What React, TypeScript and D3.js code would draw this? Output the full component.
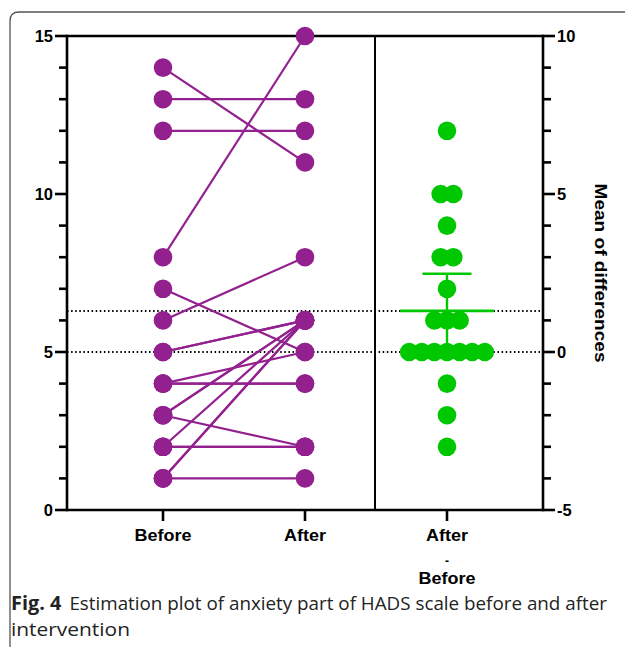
import React from "react";
import * as d3 from "d3";

const groups = ["Before", "After"];
const before = [14, 13, 12, 8, 7, 6, 5, 5, 4, 4, 4, 3, 3, 3, 2, 2, 2, 1, 1, 1];
const after = [11, 13, 12, 15, 5, 8, 6, 6, 5, 4, 4, 6, 6, 2, 6, 2, 2, 6, 6, 1];
const leftTicks = [0, 5, 10, 15];
const rightTicks = [-5, 0, 5, 10];
const tCrit = 2.093;

const PURPLE = "#93208f";
const GREEN = "#00c800";
const FONT = "'Liberation Sans', Arial, sans-serif";

export default function App() {
  const W = 625, H = 647;
  const xL = 67, xR = 543, xDiv = 375;
  const y = d3.scaleLinear().domain([0, 15]).range([510, 36]);
  const yR = d3.scaleLinear().domain([-5, 10]).range([510, 36]);
  const x = d3.scalePoint<string>().domain(["Before", "After", "Diff"]).range([163, 447]);

  const diffs = before.map((b, i) => after[i] - b);
  const meanB = d3.mean(before)!;
  const meanA = d3.mean(after)!;
  const meanD = d3.mean(diffs)!;
  const sd = d3.deviation(diffs)!;
  const half = (tCrit * sd) / Math.sqrt(diffs.length);
  // right axis: zero aligned with mean of "before"
  const yD = (v: number) => y(meanB + v);

  const grouped = d3.group(diffs, (d) => d);
  const spacing = 12.6;
  const swarm: { v: number; dx: number }[] = [];
  grouped.forEach((arr, v) => {
    arr.forEach((_, i) => swarm.push({ v, dx: (i - (arr.length - 1) / 2) * spacing }));
  });

  const minorL = d3.range(0, 16);
  const minorR = d3.range(-5, 11);
  const r = 9.3;
  const xb = x("Before")!, xa = x("After")!, xd = x("Diff")!;

  return (
    <svg width={W} height={H} style={{ position: "absolute", left: 0, top: 0 }} fontFamily={FONT}>
      {/* frame */}
      <path d={`M10,${H} L10,21 Q10,12 19,12 L${W},12`} fill="none" stroke="#555" strokeWidth={1.3} />

      {/* dotted mean lines */}
      {[meanB, meanA].map((m, i) => (
        <line key={i} x1={xL} x2={xR} y1={y(m)} y2={y(m)} stroke="#000" strokeWidth={2} strokeDasharray="1.5,2.6" />
      ))}

      {/* divider */}
      <line x1={xDiv} x2={xDiv} y1={y(15)} y2={y(0)} stroke="#000" strokeWidth={2} />

      {/* axes frame */}
      <line x1={xL} x2={xR} y1={y(15)} y2={y(15)} stroke="#000" strokeWidth={2.6} />
      <line x1={xL} x2={xR} y1={y(0)} y2={y(0)} stroke="#000" strokeWidth={2.6} />
      <line x1={xL} x2={xL} y1={y(15) - 1.3} y2={y(0) + 1.3} stroke="#000" strokeWidth={2.6} />
      <line x1={xR} x2={xR} y1={y(15) - 1.3} y2={y(0) + 1.3} stroke="#000" strokeWidth={2.6} />

      {/* left ticks */}
      {minorL.map((t) => (
        <line key={t} x1={xL - (t % 5 === 0 ? 12 : 8)} x2={xL} y1={y(t)} y2={y(t)} stroke="#000" strokeWidth={2.6} />
      ))}
      {leftTicks.map((t) => (
        <text key={t} x={xL - 14} y={y(t)} dy="0.36em" textAnchor="end" fontSize={16.5} fontWeight="bold">{t}</text>
      ))}
      {/* right ticks */}
      {minorR.map((t) => (
        <line key={t} x1={xR} x2={xR + (t % 5 === 0 ? 12 : 8)} y1={yR(t)} y2={yR(t)} stroke="#000" strokeWidth={2.6} />
      ))}
      {rightTicks.map((t) => (
        <text key={t} x={xR + 14} y={yR(t)} dy="0.36em" textAnchor="start" fontSize={16.5} fontWeight="bold">{t}</text>
      ))}
      <text transform={`translate(595,273) rotate(90)`} textAnchor="middle" fontSize={17} fontWeight="bold" textLength={179} lengthAdjust="spacingAndGlyphs">Mean of differences</text>

      {/* x ticks & labels */}
      {[xb, xa, xd].map((xx, i) => (
        <line key={i} x1={xx} x2={xx} y1={y(0)} y2={y(0) + 11} stroke="#000" strokeWidth={2.6} />
      ))}
      <text x={xb} y={541} textAnchor="middle" fontSize={17} fontWeight="bold" textLength={57} lengthAdjust="spacingAndGlyphs">{groups[0]}</text>
      <text x={xa} y={541} textAnchor="middle" fontSize={17} fontWeight="bold" textLength={42} lengthAdjust="spacingAndGlyphs">{groups[1]}</text>
      <text x={xd} y={541} textAnchor="middle" fontSize={17} fontWeight="bold" textLength={42} lengthAdjust="spacingAndGlyphs">After</text>
      <text x={xd} y={565} textAnchor="middle" fontSize={12} fontWeight="bold">-</text>
      <text x={xd} y={584} textAnchor="middle" fontSize={17} fontWeight="bold" textLength={57} lengthAdjust="spacingAndGlyphs">Before</text>

      {/* paired lines */}
      {before.map((b, i) => (
        <line key={i} x1={xb} x2={xa} y1={y(b)} y2={y(after[i])} stroke={PURPLE} strokeWidth={2.2} />
      ))}
      {before.map((b, i) => (
        <circle key={"b" + i} cx={xb} cy={y(b)} r={r} fill={PURPLE} />
      ))}
      {after.map((a, i) => (
        <circle key={"a" + i} cx={xa} cy={y(a)} r={r} fill={PURPLE} />
      ))}

      {/* differences */}
      {swarm.map((s, i) => (
        <circle key={i} cx={xd + s.dx} cy={yD(s.v)} r={r} fill={GREEN} />
      ))}
      <line x1={xd} x2={xd} y1={yD(meanD + half)} y2={yD(meanD - half)} stroke={GREEN} strokeWidth={2.4} />
      <line x1={xd - 24.5} x2={xd + 24.5} y1={yD(meanD + half)} y2={yD(meanD + half)} stroke={GREEN} strokeWidth={2.4} />
      <line x1={xd - 24.5} x2={xd + 24.5} y1={yD(meanD - half)} y2={yD(meanD - half)} stroke={GREEN} strokeWidth={2.4} />
      <line x1={xd - 47} x2={xd + 47} y1={yD(meanD)} y2={yD(meanD)} stroke={GREEN} strokeWidth={2.6} />

      {/* caption */}
      <text x={11} y={610} fontFamily="'Open Sans', 'Noto Sans', sans-serif" fontSize={18.5} fill="#222" textLength={596} lengthAdjust="spacingAndGlyphs">
        <tspan fontWeight="bold" fontSize={19.5}>Fig. 4</tspan>
        <tspan dx={8}>Estimation plot of anxiety part of HADS scale before and after</tspan>
      </text>
      <text x={11} y={636} fontFamily="'Open Sans', 'Noto Sans', sans-serif" fontSize={18.5} fill="#222" textLength={119} lengthAdjust="spacingAndGlyphs">intervention</text>
    </svg>
  );
}
